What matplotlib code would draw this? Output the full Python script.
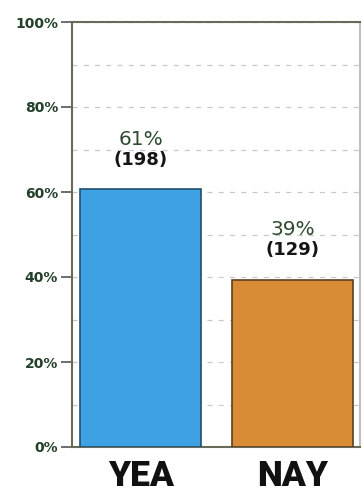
import matplotlib
matplotlib.use("Agg")
import matplotlib.pyplot as plt
from matplotlib.ticker import MultipleLocator, PercentFormatter
from matplotlib.font_manager import FontProperties

categories = ["YEA", "NAY"]
percent = [60.6, 39.4]
pct_labels = ["61%", "39%"]
counts = [198, 129]
colors = ["#3ea2e2", "#d98b35"]
edges = ["#1f4f6f", "#5a4020"]

fig = plt.figure(figsize=(3.62, 5.0), dpi=100)
ax = fig.add_axes([0.199, 0.106, 0.795, 0.850])
x = list(range(len(categories)))
ax.bar(x, percent, width=0.8, color=colors, edgecolor=edges, linewidth=1.2, zorder=3)
ax.set_xlim(-0.455, 1.446)
ax.set_ylim(0, 100)
ax.yaxis.set_major_locator(MultipleLocator(20))
ax.yaxis.set_minor_locator(MultipleLocator(10))
ax.yaxis.set_major_formatter(PercentFormatter(decimals=0))
ax.grid(axis="y", which="both", linestyle=(0, (4, 5)), color="#c8c8c8", linewidth=0.9, zorder=0)
ax.tick_params(axis="y", which="major", length=8, width=1.2, color="#555555",
               labelsize=10, labelcolor="#24402a", pad=2)
ax.tick_params(axis="y", which="minor", length=0)
for lbl in ax.get_yticklabels():
    lbl.set_fontweight("bold")
ax.set_xticks(x)
xfp = FontProperties(family="Roboto", weight=900, size=25.5)
ax.set_xticklabels(categories, fontproperties=xfp, color="#111111")
ax.tick_params(axis="x", length=0, pad=9)
for s in ax.spines.values():
    s.set_color("#6a6a5a")
    s.set_linewidth(1.5)
ax.spines["right"].set_color("#bfbfbf")

for xi, p, pl, c in zip(x, percent, pct_labels, counts):
    ax.text(xi, p + 11.7, pl, ha="center", va="center", fontsize=14.5, color="#2e4a30")
    ax.text(xi, p + 6.9, f"({c})", ha="center", va="center", fontsize=13,
            fontweight="bold", color="#151515")

fig.savefig("out.png", dpi=100)
